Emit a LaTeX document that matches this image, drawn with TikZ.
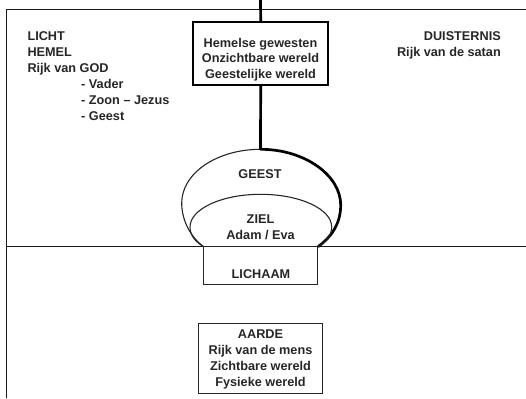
\documentclass[tikz,border=0pt]{standalone}
\usepackage{fontspec}
\setmainfont{Liberation Sans}
\begin{document}
\begin{tikzpicture}[x=1pt,y=-1pt,
  txt/.style={font=\fontsize{12.7}{16}\selectfont\bfseries, inner sep=0pt, text=black!85},
  framel/.style={line width=1.3pt, draw=black!90},
  thinl/.style={line width=1.1pt, draw=black!85},
  thickl/.style={line width=2.7pt, draw=black},
  boxplain/.style={draw=black!85, line width=1.2pt, inner sep=0pt},
  boxbold/.style={draw=black, line width=2pt, inner sep=0pt}]
\useasboundingbox (0,0) rectangle (526,398);
\fill[white] (0,0) rectangle (526,398);

% frame and divider
\coordinate (fr) at (526,9.3);
\coordinate (fc) at (6.5,9.3);
\coordinate (fb) at (6.5,398);
\draw[framel] (fr) -- (fc) -- (fb);
\coordinate (dl) at (6.5,246.5);
\coordinate (dr) at (526,246.5);
\draw[framel] (dl) -- (dr);

% top box
\node[boxbold, minimum width=134.5pt, minimum height=62.7pt] (hbox) at (260.7,53.7) {};
\node[txt, anchor=north, align=center, font=\fontsize{12.7}{15.8}\selectfont\bfseries] (heaven) at (260.5,37.6)
  {Hemelse gewesten\\Onzichtbare wereld\\Geestelijke wereld};

% connector from top and to dome
\coordinate (top) at (260.5,0);
\coordinate (dtop) at (260.5,149.3);
\draw[thickl] (top) -- (hbox.north);
\draw[thickl] (hbox.south) -- (dtop);

% body box
\node[boxplain, minimum width=114.4pt, minimum height=37.8pt] (body) at (260.5,265.4) {};
\node[txt] (bodyt) at (261,274.3) {LICHAAM};

% outer dome (geest)
\coordinate (bl) at (203.3,246.5);
\coordinate (br) at (318.3,246.5);
\draw[thinl] (bl) .. controls (192,238) and (181.7,222) .. (181.7,203)
  .. controls (181.7,173.2) and (216.9,149.3) .. (dtop);
\draw[thickl, line cap=round] (dtop) .. controls (305,149.3) and (340.7,175.5) .. (340.7,205)
  .. controls (340.7,225) and (330,238) .. (br);

% inner dome (ziel)
\draw[thinl] (bl) .. controls (196,242) and (190,236) .. (190,227)
  .. controls (190,209) and (221.6,194.3) .. (260.5,194.3)
  .. controls (300,194.3) and (331.7,209) .. (331.7,227)
  .. controls (331.7,236) and (325,242) .. (br);

\node[txt] (geest) at (260,173.8) {GEEST};
\node[txt, anchor=north, align=center] (ziel) at (260.5,214.3) {ZIEL\\Adam / Eva};

% earth box
\node[boxplain, minimum width=124pt, minimum height=70pt] (earthbox) at (260.3,358.3) {};
\node[txt, anchor=north, align=center] (earth) at (260.5,329.6)
  {AARDE\\Rijk van de mens\\Zichtbare wereld\\Fysieke wereld};

% left texts
\node[txt, anchor=north west, align=left] (god) at (27.3,31.3) {LICHT\\HEMEL\\Rijk van GOD};
\node[txt, anchor=north west, align=left] (trinity) at (81,79.2) {- Vader\\- Zoon – Jezus\\- Geest};

% right texts
\node[txt, anchor=north east, align=right] (dark) at (501,31.3) {DUISTERNIS\\Rijk van de satan};
\end{tikzpicture}
\end{document}
